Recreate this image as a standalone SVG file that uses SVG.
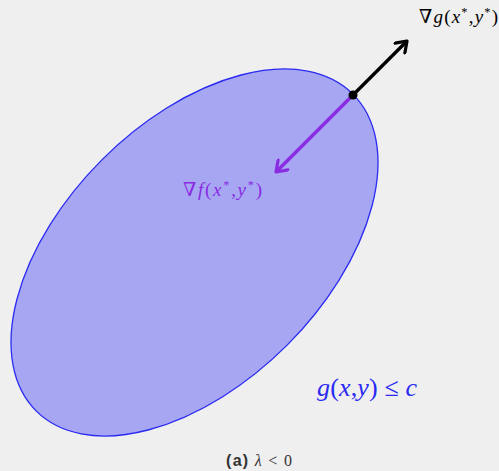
<svg xmlns="http://www.w3.org/2000/svg" width="499" height="471" viewBox="0 0 499 471">
<style>
.m{font-family:"Liberation Serif","DejaVu Serif",serif;font-style:italic}
.u{font-style:normal}
.sup{font-size:65%}
</style>
<defs>
<marker id="hb" viewBox="-12 -8 14 16" refX="0" refY="0" markerWidth="14" markerHeight="16" markerUnits="userSpaceOnUse" orient="auto">
<path d="M-10,-7 L0,0 L-10,7" fill="none" stroke="#000" stroke-width="3.2" stroke-linecap="round" stroke-linejoin="round"/>
</marker>
<marker id="hp" viewBox="-12 -8 14 16" refX="0" refY="0" markerWidth="14" markerHeight="16" markerUnits="userSpaceOnUse" orient="auto">
<path d="M-10,-7 L0,0 L-10,7" fill="none" stroke="#8a2be2" stroke-width="3.2" stroke-linecap="round" stroke-linejoin="round"/>
</marker>
</defs>
<rect width="499" height="471" fill="#efefef"/>
<g id="region">
<ellipse cx="194.5" cy="252.5" rx="224" ry="131" transform="rotate(-45 194.5 252.5)" fill="#a6a6f2" stroke="#2a2af2" stroke-width="1.3"/>
</g>
<g id="connectors">
<line x1="353" y1="95" x2="407" y2="41" stroke="#000" stroke-width="3.4" marker-end="url(#hb)"/>
<line x1="353" y1="95" x2="276" y2="172" stroke="#8a2be2" stroke-width="3.4" marker-end="url(#hp)"/>
</g>
<g id="point">
<circle cx="353" cy="95" r="4.5" fill="#000"/>
</g>
<g id="label-grad-g">
<text x="419" y="23" class="m" font-size="19" fill="#000" textLength="79" lengthAdjust="spacing"><tspan class="u">∇</tspan>g<tspan class="u">(</tspan>x<tspan class="sup u" dy="-7">*</tspan><tspan dy="7" class="u">,</tspan>y<tspan class="sup u" dy="-7">*</tspan><tspan dy="7" class="u">)</tspan></text>
</g>
<g id="label-grad-f">
<text x="183" y="196" class="m" font-size="19" fill="#8a2be2" textLength="79" lengthAdjust="spacing"><tspan class="u">∇</tspan>f<tspan class="u">(</tspan>x<tspan class="sup u" dy="-7">*</tspan><tspan dy="7" class="u">,</tspan>y<tspan class="sup u" dy="-7">*</tspan><tspan dy="7" class="u">)</tspan></text>
</g>
<g id="label-constraint">
<text x="317" y="396" class="m" font-size="26" fill="#2a2af2" textLength="100" lengthAdjust="spacing">g<tspan class="u">(</tspan>x<tspan class="u">,</tspan>y<tspan class="u">) ≤ </tspan>c</text>
</g>
<g id="caption">
<text x="226" y="466" font-size="16" fill="#333" textLength="66" lengthAdjust="spacing"><tspan font-family="'Liberation Sans','DejaVu Sans',sans-serif" font-weight="bold">(a)</tspan><tspan font-family="'Liberation Serif','DejaVu Serif',serif"> <tspan font-style="italic">λ</tspan> &lt; 0</tspan></text>
</g>
</svg>
